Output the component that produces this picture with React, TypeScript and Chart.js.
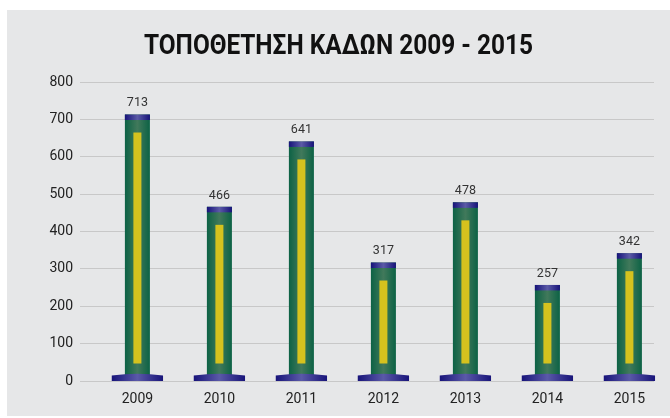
import React, { useEffect, useRef } from "react";
import { Chart, registerables } from "chart.js";

Chart.register(...registerables);

const years = ["2009", "2010", "2011", "2012", "2013", "2014", "2015"];
const bins = [713, 466, 641, 317, 478, 257, 342];
const titleText = "ΤΟΠΟΘΕΤΗΣΗ ΚΑΔΩΝ 2009 - 2015";
const yMax = 800;
const yStep = 100;

const BAR_PCT = 0.305;
const X_MIN = -0.7;
const X_MAX = 6.3;

function hGrad(ctx: CanvasRenderingContext2D, x0: number, x1: number, edge: string, mid: string) {
  const g = ctx.createLinearGradient(x0, 0, x1, 0);
  g.addColorStop(0, edge);
  g.addColorStop(0.5, mid);
  g.addColorStop(1, edge);
  return g;
}

const titlePlugin = {
  id: "condensedTitle",
  afterDraw(chart: any) {
    const ctx: CanvasRenderingContext2D = chart.ctx;
    ctx.save();
    ctx.font = "bold 27.5px Roboto, 'Liberation Sans', sans-serif";
    ctx.fillStyle = "#111111";
    ctx.textAlign = "center";
    ctx.textBaseline = "alphabetic";
    const w = ctx.measureText(titleText).width;
    const sx = 389 / w;
    ctx.translate(chart.width / 2, 44.3);
    ctx.scale(sx, 1);
    ctx.fillText(titleText, 0, 0);
    ctx.restore();
  },
};

const cylinderPlugin = {
  id: "cylinders",
  afterDatasetsDraw(chart: any) {
    const ctx: CanvasRenderingContext2D = chart.ctx;
    const meta = chart.getDatasetMeta(0);
    ctx.save();
    meta.data.forEach((el: any, i: number) => {
      const { x, y, base, width } = el.getProps(["x", "y", "base", "width"], true);
      const l = x - width / 2;
      const r = x + width / 2;
      // yellow stripe
      const yTop = y + 18;
      const yBot = base - 17;
      if (yBot > yTop) {
        ctx.fillStyle = "#d5c21e";
        ctx.fillRect(x - 4, yTop, 8, yBot - yTop);
      }
      // cap
      ctx.fillStyle = hGrad(ctx, l, r, "#17137a", "#5b5aa6");
      ctx.fillRect(l, y, width, 5.5);
      // base
      const bw = width * 2.05;
      const bl = x - bw / 2;
      const br = x + bw / 2;
      ctx.fillStyle = hGrad(ctx, bl, br, "#18147a", "#5a59a8");
      ctx.beginPath();
      ctx.moveTo(bl, base + 0.5);
      ctx.lineTo(bl, base - 5);
      ctx.quadraticCurveTo(x, base - 8.5, br, base - 5);
      ctx.lineTo(br, base + 0.5);
      ctx.closePath();
      ctx.fill();
      // value label
      ctx.fillStyle = "#333333";
      ctx.font = "12.5px Roboto, 'Liberation Sans', sans-serif";
      ctx.textAlign = "center";
      ctx.textBaseline = "bottom";
      ctx.fillText(String(bins[i]), x, y - 5);
    });
    ctx.restore();
  },
};

export default function App() {
  const ref = useRef<HTMLCanvasElement | null>(null);

  useEffect(() => {
    if (!ref.current) return;
    const chart = new Chart(ref.current, {
      type: "bar",
      data: {
        datasets: [
          {
            data: bins.map((v, i) => ({ x: i, y: v })),
            backgroundColor: (c: any) => {
              const ch = c.chart;
              const xs = ch.scales && ch.scales.x;
              if (!ch.chartArea || !xs || c.dataIndex === undefined) return "#0f6447";
              const cx = xs.getPixelForValue(c.dataIndex);
              const hw = (xs.width / (X_MAX - X_MIN)) * BAR_PCT / 2;
              return hGrad(ch.ctx, cx - hw, cx + hw, "#0c6245", "#41795b");
            },
            borderWidth: 0,
            barPercentage: BAR_PCT,
            categoryPercentage: 1,
          },
        ],
      },
      options: {
        responsive: false,
        animation: false,
        layout: { padding: { left: 0, right: 16, top: 72, bottom: 8 } },
        plugins: {
          legend: { display: false },
          tooltip: { enabled: false },
          title: { display: false },
        },
        scales: {
          x: {
            type: "linear",
            offset: false,
            min: X_MIN,
            max: X_MAX,
            afterBuildTicks: (s: any) => {
              s.ticks = years.map((_, i) => ({ value: i }));
            },
            afterFit: (s: any) => {
              s.height = 27;
            },
            grid: { display: false, drawTicks: false, offset: false },
            border: { display: false },
            ticks: {
              autoSkip: false,
              maxRotation: 0,
              callback: (v: any) => years[Math.round(Number(v))] ?? "",
              color: "#222222",
              font: { family: "Roboto, 'Liberation Sans', sans-serif", size: 14 },
              padding: 10,
            },
          },
          y: {
            min: 0,
            max: yMax,
            afterFit: (s: any) => {
              s.width = 73;
            },
            grid: { color: "#c8c8c8", drawTicks: false, lineWidth: 1 },
            border: { display: false },
            ticks: {
              stepSize: yStep,
              color: "#222222",
              padding: 7,
              font: { family: "Roboto, 'Liberation Sans', sans-serif", size: 14 },
            },
          },
        },
      },
      plugins: [cylinderPlugin, titlePlugin],
    });
    return () => chart.destroy();
  }, []);

  return (
    <div style={{ position: "absolute", left: 0, top: 0, width: 670, height: 418, background: "#ffffff" }}>
      <div style={{ position: "absolute", left: 7, top: 10, width: 663, height: 406, background: "#e6e7e8" }}>
        <canvas ref={ref} width={663} height={406} style={{ display: "block" }} />
      </div>
    </div>
  );
}
